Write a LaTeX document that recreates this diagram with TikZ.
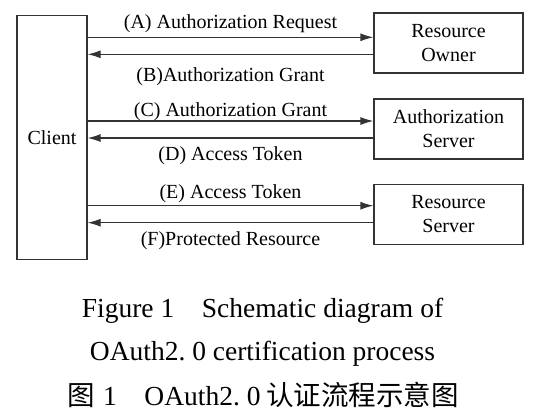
\documentclass[tikz,border=0pt]{standalone}
\usepackage{fontspec}
\setmainfont{Liberation Serif}
\newfontfamily\cjk{Noto Sans CJK SC}
\usetikzlibrary{arrows.meta,calc}
\begin{document}
\begin{tikzpicture}[x=1pt,y=-1pt,
  box/.style={draw=black!80, line width=1.2pt, minimum width=149pt, minimum height=60pt, align=center, font=\fontsize{20}{24}\selectfont, inner sep=0pt},
  arr/.style={draw=black!80, line width=1.2pt, -{Latex[length=13pt,width=8pt]}},
  lab/.style={font=\fontsize{20}{24}\selectfont, inner sep=0pt, anchor=base},
  capt/.style={font=\fontsize{27.5}{30}\selectfont, inner sep=0pt, anchor=base}]
\useasboundingbox (0,0) rectangle (538,416);
\node[box, minimum width=70pt, minimum height=244pt] (client) at (52,137.5) {Client};
\node[box] (ro) at (448.5,43) {Resource\\Owner};
\node[box] (as) at (448.5,129) {Authorization\\Server};
\node[box] (rs) at (448.5,214.5) {Resource\\Server};
\coordinate (a) at ($(ro.west)+(0,-5.7)$);
\coordinate (b) at ($(ro.west)+(0,11.3)$);
\coordinate (c) at ($(as.west)+(0,-8)$);
\coordinate (d) at ($(as.west)+(0,9)$);
\coordinate (e) at ($(rs.west)+(0,-8.8)$);
\coordinate (f) at ($(rs.west)+(0,8.2)$);
\draw[arr] (client.east |- a) -- (a) node[lab, midway, yshift=9pt] {(A) Authorization Request};
\draw[arr] (b) -- (client.east |- b) node[lab, midway, yshift=-27.4pt] {(B)Authorization Grant};
\draw[arr] (client.east |- c) -- (c) node[lab, midway, yshift=4.3pt] {(C) Authorization Grant};
\draw[arr] (d) -- (client.east |- d) node[lab, midway, yshift=-22pt] {(D) Access Token};
\draw[arr] (client.east |- e) -- (e) node[lab, midway, yshift=7.4pt] {(E) Access Token};
\draw[arr] (f) -- (client.east |- f) node[lab, midway, yshift=-22.3pt] {(F)Protected Resource};
\node[capt] (c1) at (262.5,317) {Figure 1\quad Schematic diagram of};
\node[capt] (c2) at (262.5,360) {OAuth2.\hspace{0.25em}0 certification process};
\node[capt] (c3) at (263,405) {{\cjk 图}\hspace{0.3em}1\quad OAuth2.\hspace{0.25em}0\hspace{0.2em}{\cjk 认证流程示意图}};
\end{tikzpicture}
\end{document}
